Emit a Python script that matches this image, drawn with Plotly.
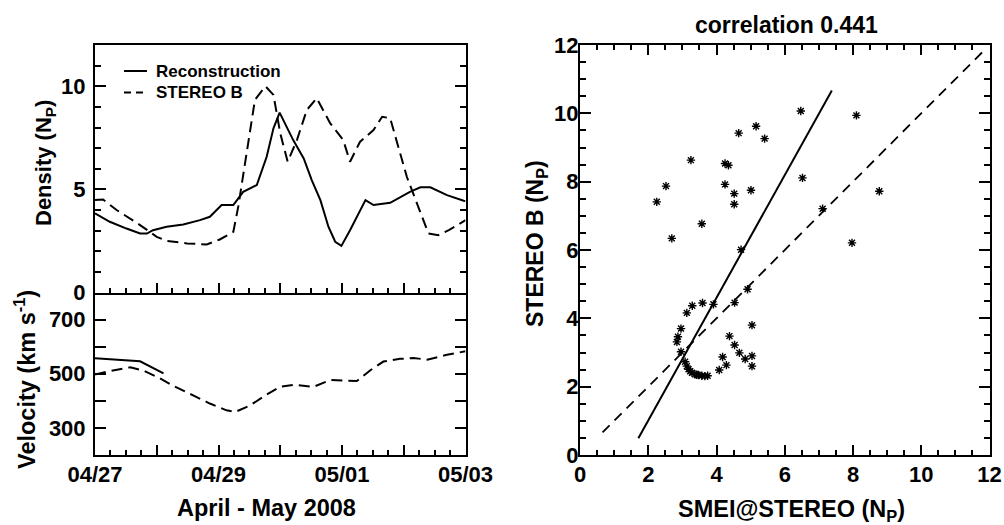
import plotly.graph_objects as go

# ---------------- data ----------------
# Time axis: days since 2008-04-27 00:00 UT
dens_recon_day = [0, 0.24, 0.51, 0.73, 0.84, 0.94, 1.16, 1.43, 1.70, 1.86, 2.05, 2.24, 2.40, 2.62,
                  2.78, 2.89, 2.99, 3.21, 3.38, 3.51, 3.65, 3.78, 3.89, 3.99, 4.13, 4.27, 4.38, 4.51,
                  4.78, 5.10, 5.27, 5.43, 5.70, 5.97, 6.0]
dens_recon = [3.84, 3.43, 3.10, 2.86, 2.86, 3.02, 3.19, 3.30, 3.51, 3.67, 4.24, 4.24, 4.88, 5.21,
              6.58, 7.96, 8.72, 7.39, 6.50, 5.45, 4.48, 3.19, 2.46, 2.26, 3.02, 3.83, 4.48, 4.24,
              4.35, 4.88, 5.10, 5.10, 4.72, 4.45, 4.44]

dens_stereo_day = [0, 0.13, 0.35, 0.73, 1.0, 1.16, 1.49, 1.81, 2.02, 2.24, 2.32, 2.46, 2.59, 2.76,
                   2.89, 3.0, 3.12, 3.27, 3.43, 3.59, 3.81, 4.02, 4.13, 4.29, 4.51, 4.65, 4.78,
                   5.05, 5.27, 5.40, 5.56, 5.73, 6.0]
dens_stereo = [4.48, 4.51, 4.00, 3.27, 2.70, 2.50, 2.38, 2.33, 2.57, 2.94, 4.16, 6.90, 9.34, 10.0,
               9.58, 7.72, 6.34, 7.39, 8.85, 9.42, 8.20, 7.39, 6.34, 7.30, 7.88, 8.52, 8.45,
               5.61, 3.84, 2.86, 2.78, 3.02, 3.51]

vel_recon_day = [0, 0.73, 1.11]
vel_recon = [557, 546, 501]

vel_stereo_day = [0, 0.24, 0.57, 0.78, 1.05, 1.27, 1.59, 1.86, 2.13, 2.27, 2.51, 2.78, 3.0, 3.21,
                  3.54, 3.81, 4.24, 4.46, 4.67, 4.94, 5.16, 5.38, 5.70, 5.94, 6.0]
vel_stereo = [497, 510, 524, 512, 483, 455, 420, 390, 365, 359, 383, 423, 452, 459,
              452, 477, 473, 513, 545, 555, 558, 552, 570, 581, 583]

day_ticks = [0, 1, 2, 3, 4, 5, 6]
label_days = [0, 2, 4, 6]
day_labels = ["04/27", "04/29", "05/01", "05/03"]
unlabeled_days = [1, 3, 5]

# Scatter: SMEI@STEREO vs STEREO B densities
smei = [2.25, 2.52, 2.69, 3.25, 3.57, 4.25, 4.35, 4.25, 4.52, 4.52, 4.65, 4.72, 5.01, 5.16, 5.41,
        6.47, 6.52, 7.11, 7.97, 8.10, 8.77,
        2.87, 2.84, 2.96, 2.96, 3.13, 3.29, 3.59, 3.91, 3.08, 3.13, 3.18, 3.23, 3.28, 3.37, 3.42,
        3.47, 3.57, 3.66, 3.74, 4.08, 4.18, 4.29, 4.38, 4.53, 4.53, 4.67, 4.84, 4.91, 5.04,
        5.04, 5.04]
stereo_b = [7.41, 7.87, 6.34, 8.63, 6.77, 8.53, 8.48, 7.92, 7.65, 7.34, 9.42, 6.01, 7.75, 9.62, 9.26,
            10.07, 8.11, 7.21, 6.21, 9.94, 7.72,
            3.46, 3.31, 3.70, 3.02, 4.16, 4.37, 4.45, 4.41, 2.73, 2.60, 2.51, 2.45, 2.41, 2.36, 2.35,
            2.34, 2.32, 2.31, 2.32, 2.49, 2.87, 2.63, 3.48, 3.22, 4.46, 2.99, 2.81, 4.85, 3.80,
            2.90, 2.60]

fit_x = [1.71, 7.38]
fit_y = [0.49, 10.67]
equal_x = [0.66, 11.8]
equal_y = [0.66, 11.8]

corr_value = 0.441

# ---------------- figure ----------------
W, H = 1004, 525
FONT = "Liberation Sans, Arial, Helvetica, sans-serif"
tickfont = dict(family=FONT, size=22, color="black", weight="bold")
DASH = "11px,6px"

def px_x(p):
    return p / W

def px_y(p):
    return (H - p) / H

fig = go.Figure()

# density panel
fig.add_trace(go.Scatter(x=dens_recon_day, y=dens_recon, mode="lines",
                         line=dict(color="black", width=2), xaxis="x", yaxis="y",
                         name="Reconstruction", showlegend=False))
fig.add_trace(go.Scatter(x=dens_stereo_day, y=dens_stereo, mode="lines",
                         line=dict(color="black", width=2, dash=DASH), xaxis="x", yaxis="y",
                         name="STEREO B", showlegend=False))
# velocity panel
fig.add_trace(go.Scatter(x=vel_recon_day, y=vel_recon, mode="lines",
                         line=dict(color="black", width=2), xaxis="x2", yaxis="y2",
                         name="Reconstruction", showlegend=False))
fig.add_trace(go.Scatter(x=vel_stereo_day, y=vel_stereo, mode="lines",
                         line=dict(color="black", width=2, dash=DASH), xaxis="x2", yaxis="y2",
                         name="STEREO B", showlegend=False))
# scatter panel
fig.add_trace(go.Scatter(x=smei, y=stereo_b, mode="markers",
                         marker=dict(symbol="asterisk-open", size=7, color="black",
                                     line=dict(color="black", width=1.4)),
                         xaxis="x3", yaxis="y3", showlegend=False))
fig.add_trace(go.Scatter(x=fit_x, y=fit_y, mode="lines",
                         line=dict(color="black", width=2), xaxis="x3", yaxis="y3",
                         showlegend=False))
fig.add_trace(go.Scatter(x=equal_x, y=equal_y, mode="lines",
                         line=dict(color="black", width=1.8, dash="10px,7px"),
                         xaxis="x3", yaxis="y3", showlegend=False))

left_dom = [px_x(95), px_x(465.5)]
right_dom = [px_x(580), px_x(989.5)]
top_dom = [px_y(292.5), px_y(45)]
bot_dom = [px_y(455), px_y(292.5)]
full_dom = [px_y(455), px_y(45)]

common = dict(showgrid=False, zeroline=False, linecolor="black", linewidth=2,
              ticks="inside", tickcolor="black", tickwidth=2, tickfont=tickfont,
              automargin=False)

fig.update_layout(
    width=W, height=H, autosize=False,
    margin=dict(l=0, r=0, t=0, b=0, autoexpand=False),
    paper_bgcolor="white", plot_bgcolor="white",
    xaxis=dict(domain=left_dom, anchor="y", range=[0, 6], tickmode="array",
               tickvals=day_ticks, showticklabels=False,
               ticklen=10, mirror=True,
               minor=dict(ticks="inside", dtick=0.25, tick0=0, ticklen=5,
                          tickcolor="black", tickwidth=1.5),
               **common),
    yaxis=dict(domain=top_dom, anchor="x", range=[0, 12], tickmode="array",
               tickvals=[0, 5, 10], ticklen=11, mirror="allticks", ticklabelstandoff=3,
               minor=dict(ticks="inside", dtick=1, tick0=0, ticklen=6,
                          tickcolor="black", tickwidth=1.5),
               **common),
    xaxis2=dict(domain=left_dom, anchor="y2", range=[0, 6], tickmode="array",
                tickvals=label_days, ticktext=day_labels, ticklen=10, mirror=False,
                ticklabelstandoff=-1,
                minor=dict(ticks="inside", dtick=0.25, tick0=0, ticklen=5,
                           tickcolor="black", tickwidth=1.5),
                **common),
    xaxis4=dict(overlaying="x2", anchor="y2", range=[0, 6], tickmode="array",
                tickvals=unlabeled_days, showticklabels=False, ticks="inside", ticklen=10,
                tickcolor="black", tickwidth=2, showline=False, showgrid=False,
                zeroline=False, automargin=False),
    yaxis2=dict(domain=bot_dom, anchor="x2", range=[200, 800], tickmode="array",
                tickvals=[300, 500, 700], ticklen=11, mirror="allticks", ticklabelstandoff=3,
                minor=dict(ticks="inside", dtick=100, tick0=0, ticklen=6,
                           tickcolor="black", tickwidth=1.5),
                **common),
    xaxis3=dict(domain=right_dom, anchor="y3", range=[0, 12], tickmode="array",
                tickvals=[0, 2, 4, 6, 8, 10, 12], ticklen=10, mirror="allticks",
                ticklabelstandoff=-1,
                minor=dict(ticks="inside", dtick=0.5, tick0=0, ticklen=5,
                           tickcolor="black", tickwidth=1.5),
                **common),
    yaxis3=dict(domain=full_dom, anchor="x3", range=[0, 12], tickmode="array",
                tickvals=[0, 2, 4, 6, 8, 10, 12], ticklen=11, mirror="allticks",
                ticklabelstandoff=-5,
                minor=dict(ticks="inside", dtick=0.5, tick0=0, ticklen=6,
                           tickcolor="black", tickwidth=1.5),
                **common),
)
# invisible carrier trace so the overlay tick axis is drawn
fig.add_trace(go.Scatter(x=[vel_stereo_day[0]], y=[vel_stereo[0]], mode="lines",
                         xaxis="x4", yaxis="y2", showlegend=False, hoverinfo="skip",
                         line=dict(color="rgba(0,0,0,0)")))

def tfont(size):
    return dict(family=FONT, size=size, color="black", weight="bold")

ann = [
    dict(text="Density (N<sub>P</sub>)", x=px_x(45), y=px_y(163), textangle=-90, font=tfont(22)),
    dict(text="Velocity (km s<sup>-1</sup>)", x=px_x(25), y=px_y(380), textangle=-90,
         font=tfont(23.5)),
    dict(text="April - May 2008", x=px_x(266), y=px_y(508), textangle=0, font=tfont(23.5)),
    dict(text="correlation %.3f" % corr_value, x=px_x(786), y=px_y(25), textangle=0,
         font=tfont(23)),
    dict(text="STEREO B (N<sub>P</sub>)", x=px_x(537), y=px_y(244), textangle=-90,
         font=tfont(23)),
    dict(text="SMEI@STEREO (N<sub>P</sub>)", x=px_x(791), y=px_y(510), textangle=0,
         font=tfont(23.5)),
]
annotations = []
for a in ann:
    annotations.append(dict(xref="paper", yref="paper", showarrow=False,
                            xanchor="center", yanchor="middle", **a))

# legend (drawn manually)
legfont = tfont(17)
annotations.append(dict(text="Reconstruction", xref="paper", yref="paper", x=px_x(154),
                        y=px_y(71), xanchor="left", yanchor="middle", showarrow=False,
                        font=legfont))
annotations.append(dict(text="STEREO B", xref="paper", yref="paper", x=px_x(154),
                        y=px_y(92.5), xanchor="left", yanchor="middle", showarrow=False,
                        font=legfont))
shapes = [
    dict(type="line", xref="paper", yref="paper", x0=px_x(124), x1=px_x(147),
         y0=px_y(71), y1=px_y(71), line=dict(color="black", width=2)),
    dict(type="line", xref="paper", yref="paper", x0=px_x(124), x1=px_x(147),
         y0=px_y(92.5), y1=px_y(92.5), line=dict(color="black", width=2, dash="7px,5px")),
]
fig.update_layout(annotations=annotations, shapes=shapes)

fig.write_html("out.html", config={"displayModeBar": False},
               post_script="document.body.style.margin='0';"
                           "document.body.style.overflow='hidden';")
